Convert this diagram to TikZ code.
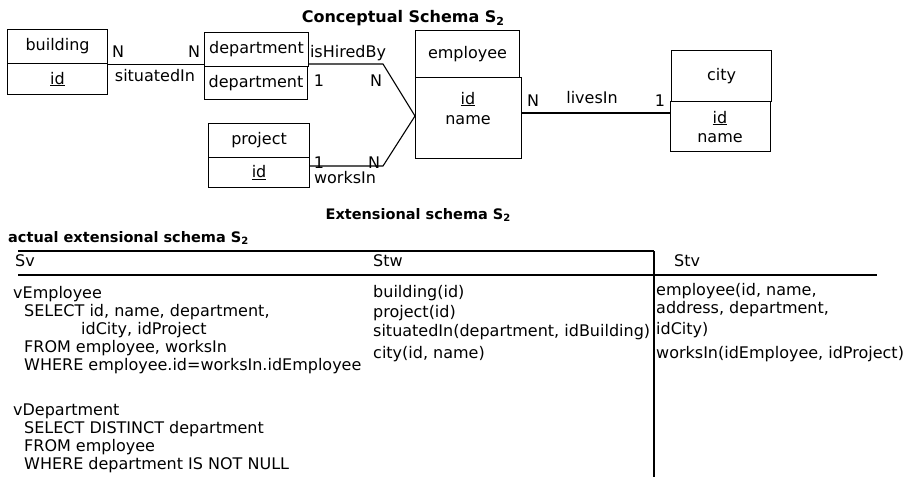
\documentclass[tikz,border=0pt]{standalone}
\usepackage{fontspec}
\setmainfont{DejaVu Sans}
\newcommand{\subtwo}{\raisebox{-0.35ex}{\fontsize{11}{11}\selectfont 2}}
\newcommand{\subtwosm}{\raisebox{-0.35ex}{\fontsize{10}{10}\selectfont 2}}
\begin{document}
\begin{tikzpicture}[x=1pt,y=-1pt,
  every node/.style={font=\fontsize{16}{19}\selectfont, inner sep=0pt},
  box/.style={draw, line width=1.1pt, anchor=north west, align=center},
  lbl/.style={anchor=base},
  lblw/.style={anchor=base west},
  title/.style={anchor=base, font=\fontsize{16}{19}\selectfont\bfseries},
  subtitle/.style={font=\fontsize{14.5}{17}\selectfont\bfseries},
  conn/.style={line width=1.1pt},
  rule/.style={line width=1.1pt}]
\useasboundingbox (0,0) rectangle (911,477);
% title
\node[title] (t1) at (403,22) {Conceptual Schema S\subtwo};
% building
\node[box, minimum width=100pt, minimum height=34pt] (bldT) at (7,29) {building};
\node[box, minimum width=100pt, minimum height=31pt] (bldB) at (7,63) {\underline{id}};
% department
\node[box, minimum width=104pt, minimum height=34pt] (depT) at (204,32) {department};
\node[box, minimum width=103pt, minimum height=33pt] (depB) at (204,66) {department};
% project
\node[box, minimum width=101pt, minimum height=34pt] (prjT) at (208,123) {project};
\node[box, minimum width=101pt, minimum height=30pt] (prjB) at (208,157) {\underline{id}};
% employee
\node[box, minimum width=104pt, minimum height=47pt] (empT) at (415,30) {employee};
\node[box, minimum width=106pt, minimum height=81pt] (empB) at (415,77) {};
\node[lbl] (empid) at (468,104) {\underline{id}};
\node[lbl] (empname) at (468,124) {name};
% city
\node[box, minimum width=100pt, minimum height=51pt] (cityT) at (671,50) {city};
\node[box, minimum width=100pt, minimum height=50pt] (cityB) at (670,101) {};
\node[lbl] (cityid) at (720,123) {\underline{id}};
\node[lbl] (cityname) at (720,142) {name};
% connector coordinates
\coordinate (j1) at (383,64);
\coordinate (hub) at (415,116);
\coordinate (j2) at (383,166);
\coordinate (li) at (0,113);
% connectors
\draw[conn] (bldT.south east) -- (bldT.south east -| depT.west);
\draw[conn] (depT.east |- j1) -- (j1) -- (hub);
\draw[conn] (prjB.east |- j2) -- (j2) -- (hub);
\draw[conn] (empB.east |- li) -- (cityB.west |- li);
% connector labels
\node[lbl] (n1) at (118,57) {N};
\node[lbl] (n2) at (194,57) {N};
\node[lbl] (sit) at (155,81) {situatedIn};
\node[lbl] (ihb) at (348,57) {isHiredBy};
\node[lbl] (o1) at (319,86) {1};
\node[lbl] (n3) at (376,86) {N};
\node[lbl] (o2) at (319,168) {1};
\node[lbl] (n4) at (374,168) {N};
\node[lbl] (wi) at (345,183) {worksIn};
\node[lbl] (n5) at (533,106) {N};
\node[lbl] (liv) at (592,103) {livesIn};
\node[lbl] (o3) at (660,106) {1};
% extensional
\node[title, subtitle] (t2) at (418,219) {Extensional schema S\subtwosm};
\node[title, subtitle, anchor=base west] (t3) at (8,242) {actual extensional schema S\subtwosm};
\coordinate (r1a) at (18,251);
\coordinate (r1b) at (654,251);
\coordinate (r2a) at (18,275);
\coordinate (r2b) at (877,275);
\coordinate (vb) at (654,477);
\draw[rule] (r1a) -- (r1b);
\draw[rule] (r2a) -- (r2b);
\draw[rule] (r1b) -- (vb);
% headers
\node[lblw] (hsv) at (15,266) {Sv};
\node[lblw] (hstw) at (373,266) {Stw};
\node[lblw] (hstv) at (674,266) {Stv};
% Sv column
\node[lblw] (s1) at (13,298) {vEmployee};
\node[lblw] (s2) at (24,316) {SELECT id, name, department,};
\node[lblw] (s3) at (81,334) {idCity, idProject};
\node[lblw] (s4) at (24,352) {FROM employee, worksIn};
\node[lblw] (s5) at (24,370) {WHERE employee.id=worksIn.idEmployee};
\node[lblw] (s6) at (13,415) {vDepartment};
\node[lblw] (s7) at (24,433) {SELECT DISTINCT department};
\node[lblw] (s8) at (24,451) {FROM employee};
\node[lblw] (s9) at (24,469) {WHERE department IS NOT NULL};
% Stw column
\node[lblw] (w1) at (373,297) {building(id)};
\node[lblw] (w2) at (373,317) {project(id)};
\node[lblw] (w3) at (373,336) {situatedIn(department, idBuilding)};
\node[lblw] (w4) at (373,358) {city(id, name)};
% Stv column
\node[lblw] (v1) at (656,295) {employee(id, name,};
\node[lblw] (v2) at (656,313) {address, department,};
\node[lblw] (v3) at (656,334) {idCity)};
\node[lblw] (v4) at (656,358) {worksIn(idEmployee, idProject)};
\end{tikzpicture}
\end{document}
